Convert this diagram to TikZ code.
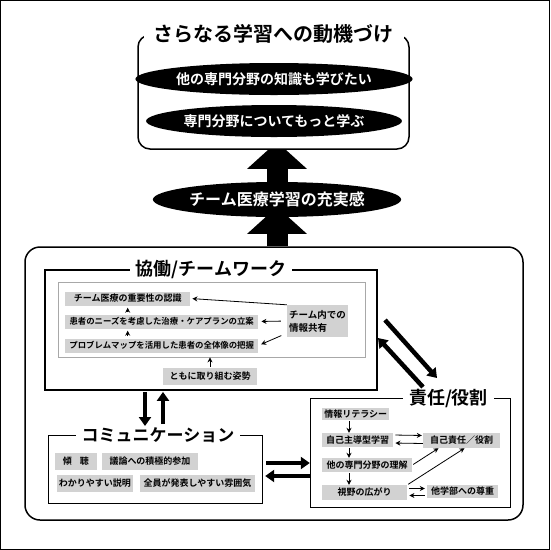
\documentclass[tikz,border=0pt]{standalone}
\usepackage{fontspec}
\setmainfont{Noto Sans CJK JP}[BoldFont={Noto Sans CJK JP Bold}]
\usepackage{xcolor}
\definecolor{itemgray}{HTML}{D2D2D2}
\definecolor{framegray}{HTML}{A8A8A8}
\usetikzlibrary{arrows,arrows.meta,shapes.geometric,positioning}
\pgfdeclarelayer{back}
\pgfsetlayers{back,main}

\begin{document}
\begin{tikzpicture}[x=1pt,y=-1pt,>=stealth',font=\bfseries,line width=1.5pt]
            \tikzstyle{frame}=[draw,inner sep=0pt]
            \tikzstyle{heading}=[fill=white,inner xsep=6pt,inner ysep=0pt]
            \tikzstyle{oval}=[ellipse,fill=black,text=white,inner sep=0pt]
            \tikzstyle{item}=[fill=itemgray,inner sep=0pt,minimum height=14pt,font=\bfseries\fontsize{9}{10}\selectfont]
            \tikzstyle{big}=[line width=21pt,-{Triangle[width=58pt,length=27pt]}]
            \tikzstyle{thick}=[line width=4.5pt,-{Triangle[width=12pt,length=9pt]}]
            \tikzstyle{thin}=[line width=0.8pt,-{Stealth[width=5pt,length=5pt]}]

            \useasboundingbox (0,0) rectangle (550,550);
            \draw[line width=1pt] (0.5,0.5) rectangle (549.5,549.5);

            % top: motivation
            \node[frame,fill=white,rounded corners=12pt,minimum width=271pt,minimum height=114pt] (motive) at (273.5,92) {};
            \node[heading,inner xsep=10pt,font=\bfseries\fontsize{20}{22}\selectfont] (motiveT) at (motive.north) {さらなる学習への動機づけ};
            \node[oval,minimum width=228pt,minimum height=32pt,font=\bfseries\fontsize{14}{16}\selectfont] (wish) at (274,79) {他の専門分野の知識も学びたい};
            \node[oval,minimum width=228pt,minimum height=32pt,font=\bfseries\fontsize{14}{16}\selectfont] (more) at (274,121) {専門分野についてもっと学ぶ};

            % middle
            \node[oval,minimum width=208pt,minimum height=35pt,font=\bfseries\fontsize{16}{18}\selectfont] (sense) at (277,199.5) {チーム医療学習の充実感};

            % big frame
            \node[frame,rounded corners=15pt,minimum width=498pt,minimum height=273pt] (whole) at (274,383.5) {};

            \begin{pgfonlayer}{back}
            \path (whole.north -| sense.south) edge [big,shorten >=-11pt] (sense.south)
                  ([yshift=-8pt]sense.north) edge [big,shorten >=-8pt] (motive.south -| sense.north);
            \end{pgfonlayer}

            % collaboration
            \node[frame,line width=1.8pt,minimum width=332pt,minimum height=120pt] (collab) at (211,330) {};
            \node[heading,font=\bfseries\fontsize{18}{20}\selectfont] (collabT) at (collab.north) {協働/チームワーク};
            \node[frame,draw=framegray,line width=0.8pt,minimum width=307pt,minimum height=75pt] (inner) at (211.5,319.5) {};
            \node[item,anchor=west,minimum width=125pt] (recog) at (65,298.5) {チーム医療の重要性の認識};
            \node[item,anchor=west,minimum width=193pt,font=\bfseries\fontsize{8.4}{10}\selectfont] (plan) at (65,321.5) {患者のニーズを考慮した治療・ケアプランの立案};
            \node[item,anchor=west,minimum width=193pt,font=\bfseries\fontsize{8.4}{10}\selectfont] (grasp) at (65,345.5) {プロブレムマップを活用した患者の全体像の把握};
            \node[item,minimum width=61pt,minimum height=32pt,align=left,font=\bfseries\fontsize{9.5}{13}\selectfont] (share) at (317.5,321) {チーム内での\\情報共有};
            \node[item,minimum width=94pt,minimum height=17pt] (together) at (210,376.5) {ともに取り組む姿勢};

            \path (share.north west) edge [thin,shorten >=2pt] (recog.east)
                  (share.west) edge [thin,shorten <=6pt,shorten >=3pt] (plan.east)
                  ([yshift=4pt]share.south west) edge [thin,shorten <=6pt,shorten >=3pt] (grasp.east)
                  (recog.south |- plan.north) edge [thin,shorten <=2pt,shorten >=2pt] (recog.south)
                  (recog.south |- grasp.north) edge [thin,shorten <=2pt,shorten >=2pt] (recog.south |- plan.south)
                  (together.north) edge [thin,shorten <=1pt] (inner.south -| together.north);

            % communication
            \node[frame,minimum width=214pt,minimum height=68pt] (comm) at (155,469) {};
            \node[heading,font=\bfseries\fontsize{17}{19}\selectfont] (commT) at (158,435) {コミュニケーション};
            \node[item,minimum width=42pt,minimum height=17pt] (listen) at (76,461.5) {傾\hspace{8pt}聴};
            \node[item,minimum width=96pt,minimum height=17pt] (debate) at (150,461.5) {議論への積極的参加};
            \node[item,minimum width=76pt,minimum height=17pt] (explain) at (95,483.5) {わかりやすい説明};
            \node[item,minimum width=115pt,minimum height=17pt] (atmos) at (197.5,483.5) {全員が発表しやすい雰囲気};

            \coordinate (downTip) at (145,426);
            \coordinate (upFoot) at (163,424);
            \path (collab.south -| downTip) edge [thick,shorten <=1pt] (downTip)
                  (upFoot) edge [thick,shorten >=1pt] (collab.south -| upFoot);

            % responsibility
            \node[frame,minimum width=200pt,minimum height=109pt] (resp) at (410,452.5) {};
            \node[heading,font=\bfseries\fontsize{18}{20}\selectfont] (respT) at (448.5,398) {責任/役割};
            \node[item,anchor=west,minimum width=67pt,minimum height=12pt] (lit) at (322,414) {情報リテラシー};
            \node[item,anchor=west,minimum width=71pt] (self) at (322,440) {自己主導型学習};
            \node[item,minimum width=77pt,minimum height=15pt] (duty) at (461.5,440.5) {自己責任／役割};
            \node[item,anchor=west,minimum width=90pt] (other) at (322,465) {他の専門分野の理解};
            \node[item,anchor=west,minimum width=85pt,minimum height=15pt] (view) at (322,492.5) {視野の広がり};
            \node[item,minimum width=71pt,minimum height=13pt] (respect) at (462.5,491.5) {他学部への尊重};

            \path ([xshift=27pt]lit.south west) edge [thin,shorten <=1pt] ([xshift=27pt]self.north west)
                  ([xshift=27pt]self.south west) edge [thin,shorten <=1pt] ([xshift=27pt]other.north west)
                  ([xshift=27pt]other.south west) edge [thin,shorten <=1pt] ([xshift=27pt]view.north west)
                  ([yshift=5pt]self.east) edge [thin,shorten <=2pt,shorten >=1pt] ([yshift=5pt]duty.west)
                  ([yshift=-3pt]duty.west) edge [thin,shorten >=2pt] ([yshift=-3pt]self.east)
                  (other.east) edge [thin,shorten <=1pt] ([xshift=-23pt]duty.south)
                  (view.north east) edge [thin,shorten <=1pt] ([xshift=3pt]duty.south)
                  ([yshift=4pt]view.east) edge [thin,shorten <=2pt,shorten >=2pt] ([yshift=3pt]respect.west)
                  ([yshift=-4pt]respect.west) edge [thin,shorten <=2pt,shorten >=2pt] ([yshift=-3pt]view.east);

            % links between the three frames
            \path (comm.east |- 0,463) edge [thick,shorten <=4pt] (resp.west |- 0,463)
                  (resp.west |- 0,476) edge [thick,shorten >=3pt] (comm.east |- 0,476)
                  (385,320) edge [thick] (437,378)
                  (423,387) edge [thick] (378,338);
\end{tikzpicture}
\end{document}
